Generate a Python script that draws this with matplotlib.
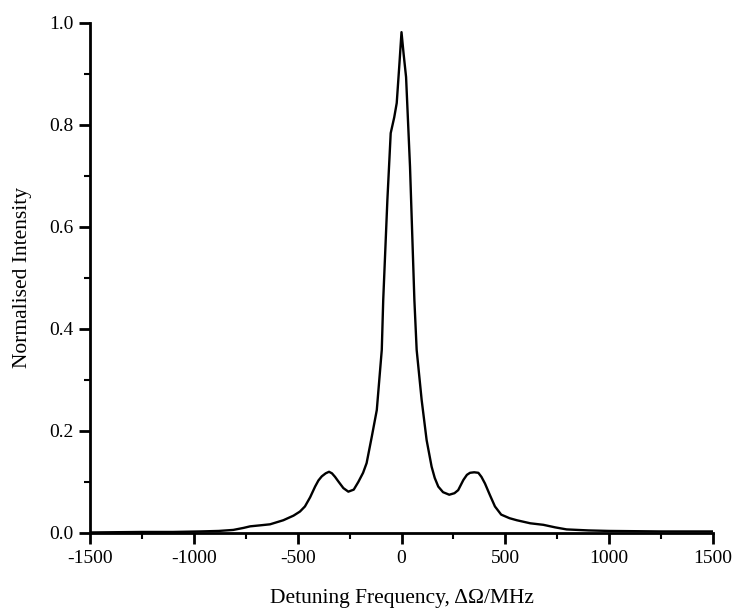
import matplotlib.pyplot as plt
from matplotlib.ticker import MultipleLocator

# detuning frequency (MHz) and normalised intensity
detuning = [-1500, -1250, -1100, -970, -880, -810, -760, -729, -680, -633, -569, -520, -489,
            -465, -440, -416, -400, -384, -365, -349, -335, -320, -304, -280, -256, -230,
            -208, -185, -168, -143, -119, -95, -88, -68, -52, -35, -23, -10, 0,
            10, 22, 41, 62, 73, 97, 121, 145, 160, 177, 200, 230, 255, 273,
            298, 315, 330, 350, 370, 385, 402, 425, 450, 480, 520, 555, 620, 683,
            740, 795, 900, 1000, 1250, 1500]
intensity = [0.001, 0.002, 0.002, 0.003, 0.004, 0.006, 0.010, 0.013, 0.015, 0.017, 0.025, 0.034, 0.042,
             0.052, 0.070, 0.091, 0.103, 0.111, 0.117, 0.120, 0.117, 0.110, 0.101, 0.088, 0.081, 0.085,
             0.100, 0.118, 0.137, 0.189, 0.241, 0.359, 0.457, 0.653, 0.784, 0.815, 0.843, 0.92, 0.982,
             0.94, 0.894, 0.718, 0.457, 0.359, 0.261, 0.182, 0.130, 0.108, 0.091, 0.080, 0.075, 0.078, 0.084,
             0.104, 0.114, 0.118, 0.119, 0.118, 0.110, 0.097, 0.075, 0.052, 0.036, 0.029, 0.025, 0.019, 0.016,
             0.011, 0.007, 0.005, 0.004, 0.003, 0.003]

xticks = [-1500, -1000, -500, 0, 500, 1000, 1500]
xticklabels = ['-1500', '-1000', '-500', '0', '500', '1000', '1500']
yticks = [0.0, 0.2, 0.4, 0.6, 0.8, 1.0]
yticklabels = ['0.0', '0.2', '0.4', '0.6', '0.8', '1.0']

plt.rcParams['font.family'] = 'Liberation Serif'

fig = plt.figure(figsize=(7.33, 6.11), dpi=100)
ax = fig.add_axes([0.1228, 0.1277, 0.8499, 0.8347])

ax.plot(detuning, intensity, color='black', linewidth=1.7)

ax.set_xlim(-1500, 1500)
ax.set_ylim(0, 1.0)
ax.set_xticks(xticks)
ax.set_xticklabels(xticklabels)
ax.set_yticks(yticks)
ax.set_yticklabels(yticklabels)
ax.xaxis.set_minor_locator(MultipleLocator(250))
ax.yaxis.set_minor_locator(MultipleLocator(0.1))

for side in ['top', 'right']:
    ax.spines[side].set_visible(False)
for side in ['left', 'bottom']:
    ax.spines[side].set_linewidth(2)

ax.tick_params(which='major', direction='out', length=8, width=2,
               labelsize=14, pad=4)
ax.tick_params(which='minor', direction='out', length=4, width=1.5)

ax.set_xlabel('Detuning Frequency, ΔΩ/MHz', fontsize=15.5, labelpad=16)
ax.set_ylabel('Normalised Intensity', fontsize=15.5, labelpad=12)

fig.savefig('out.png', dpi=100)
